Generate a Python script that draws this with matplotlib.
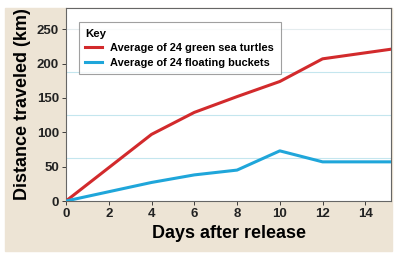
import matplotlib.pyplot as plt
from matplotlib.patches import Rectangle

days = [0, 4, 6, 8, 10, 12, 15.2]
turtles = [0, 97, 129, 152, 174, 207, 221]
buckets = [0, 27, 38, 45, 73, 57, 57]
grid_vals = [62.5, 125, 187.5, 250]
xticks = [0, 2, 4, 6, 8, 10, 12, 14]
yticks = [0, 50, 100, 150, 200, 250]

plt.rcParams['font.family'] = ['Liberation Sans', 'DejaVu Sans']
plt.rcParams['font.weight'] = 'bold'

fig = plt.figure(figsize=(4, 2.56), dpi=100)
# beige panel behind axes
fig.patches.append(Rectangle((5/400, 1 - 251/256), (392-5)/400, (251-8)/256,
                             transform=fig.transFigure, color='#ede4d5', zorder=-5))
ax = fig.add_axes([66/400, 1 - 201/256, (391-66)/400, (201-8)/256])
ax.set_zorder(5)
ax.set_facecolor('white')

for g in grid_vals:
    ax.axhline(g, color='#c4e6ee' if g < 250 else '#e4ecee', lw=0.8, zorder=1)

ax.plot(days, turtles, color='#d22a2c', lw=2.2, label='Average of 24 green sea turtles', zorder=3)
ax.plot(days, buckets, color='#1fa6da', lw=2.2, label='Average of 24 floating buckets', zorder=3)

ax.set_xlim(0, 15.2)
ax.set_ylim(0, 281)
ax.set_xticks(xticks)
ax.set_yticks(yticks)
ax.tick_params(labelsize=9.5, colors='#222222', length=3, width=0.6, pad=2)
for t in ax.get_xticklabels() + ax.get_yticklabels():
    t.set_fontweight('bold')
for s in ax.spines.values():
    s.set_color('#666666')
    s.set_linewidth(0.8)

ax.set_xlabel('Days after release', fontsize=13, fontweight='bold', labelpad=4)
ax.set_ylabel('Distance traveled (km)', fontsize=13, fontweight='bold', labelpad=4)

leg = ax.legend(title='Key', loc='upper left', bbox_to_anchor=(0.022, 0.955),
                fontsize=7.9, title_fontsize=8.2, frameon=True, fancybox=False,
                edgecolor='#888888', handlelength=1.5, borderpad=0.6, labelspacing=0.4,
                alignment='left')
leg.get_title().set_fontweight('bold')
for t in leg.get_texts():
    t.set_fontweight('bold')
leg.get_frame().set_linewidth(0.8)

fig.savefig('out.png', dpi=100)
